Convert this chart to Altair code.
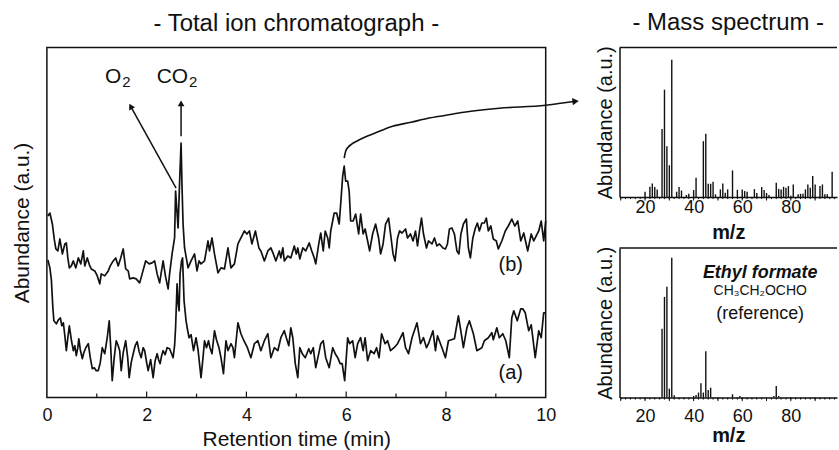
import altair as alt
import pandas as pd

FONT = "Liberation Sans"
INK = "#111111"

# ---------------- Total ion chromatogram ----------------
# trace (a)
t_a = [0.02, 0.06, 0.09, 0.12, 0.14, 0.19, 0.23, 0.27, 0.30, 0.33, 0.36, 0.39, 0.42, 0.45, 0.49, 0.53, 0.56,
       0.59, 0.62, 0.64, 0.67, 0.71, 0.74, 0.78, 0.83, 0.87, 0.91, 0.95, 0.99, 1.03, 1.07, 1.11, 1.16, 1.21,
       1.25, 1.28, 1.31, 1.35, 1.39, 1.43, 1.46, 1.49, 1.53, 1.58, 1.62, 1.65, 1.69, 1.73, 1.77, 1.81, 1.85,
       1.89, 1.93, 1.96, 2.00, 2.03, 2.08, 2.13, 2.17, 2.21, 2.24, 2.27, 2.30, 2.33, 2.37, 2.41, 2.46, 2.50,
       2.53, 2.56, 2.58, 2.61, 2.63, 2.65, 2.67, 2.70, 2.72, 2.75, 2.79, 2.82, 2.85, 2.89, 2.94, 2.99, 3.03,
       3.06, 3.09, 3.13, 3.16, 3.20, 3.24, 3.27, 3.31, 3.36, 3.40, 3.45, 3.49, 3.54, 3.59, 3.63, 3.69, 3.73,
       3.76, 3.80, 3.83, 3.89, 3.95, 4.02, 4.09, 4.16, 4.23, 4.29, 4.36, 4.43, 4.49, 4.56, 4.63, 4.69, 4.73,
       4.76, 4.80, 4.85, 4.89, 4.93, 4.98, 5.03, 5.07, 5.12, 5.18, 5.25, 5.29, 5.34, 5.39, 5.45, 5.49, 5.54,
       5.59, 5.66, 5.73, 5.78, 5.83, 5.88, 5.92, 5.97, 6.03, 6.07, 6.13, 6.18, 6.23, 6.29, 6.34, 6.38, 6.43,
       6.49, 6.56, 6.61, 6.66, 6.71, 6.78, 6.83, 6.89, 6.96, 7.03, 7.09, 7.14, 7.19, 7.25, 7.32, 7.42, 7.49,
       7.55, 7.61, 7.65, 7.74, 7.79, 7.83, 7.92, 7.99, 8.05, 8.17, 8.25, 8.32, 8.35, 8.42, 8.47, 8.55, 8.62,
       8.72, 8.77, 8.85, 8.92, 8.95, 9.02, 9.07, 9.14, 9.20, 9.27, 9.32, 9.36, 9.43, 9.50, 9.54, 9.59, 9.66,
       9.71, 9.79, 9.86, 9.91, 9.96, 10.0]
v_a = [138, 130, 118, 90, 77, 74, 78, 80, 72, 75, 62, 47, 60, 72, 58, 47, 52,
       42, 50, 59, 48, 39, 45, 50, 54, 40, 29, 30, 27, 27, 35, 50, 44, 60,
       77, 50, 17, 40, 57, 52, 47, 27, 45, 57, 40, 20, 35, 44, 52, 56, 46,
       40, 50, 47, 35, 27, 38, 20, 37, 44, 38, 34, 42, 47, 43, 50, 49, 44,
       40, 52, 70, 114, 95, 87, 124, 137, 140, 97, 77, 68, 60, 63, 47, 60, 48,
       34, 20, 40, 57, 50, 57, 50, 44, 67, 58, 50, 40, 24, 57, 47, 54, 50,
       40, 60, 75, 64, 57, 50, 40, 54, 57, 47, 57, 64, 40, 50, 47, 60, 64,
       67, 60, 52, 70, 60, 34, 20, 50, 44, 40, 49, 44, 50, 30, 44, 54, 57,
       40, 30, 50, 44, 40, 34, 34, 17, 60, 54, 57, 40, 54, 60, 47, 60, 37,
       47, 44, 50, 40, 64, 54, 57, 47, 50, 54, 60, 65, 50, 44, 60, 75, 54,
       60, 50, 54, 67, 47, 62, 50, 40, 57, 59, 82, 60, 50, 70, 77, 64, 47,
       50, 57, 60, 65, 58, 70, 60, 64, 57, 40, 80, 87, 77, 89, 89, 85, 67,
       73, 40, 67, 60, 85, 85]

# trace (b)
t_b = [0.02, 0.06, 0.11, 0.15, 0.18, 0.22, 0.26, 0.29, 0.31, 0.36, 0.39, 0.42, 0.45, 0.49, 0.53, 0.58, 0.63,
       0.68, 0.73, 0.76, 0.81, 0.86, 0.89, 0.96, 1.01, 1.06, 1.09, 1.16, 1.23, 1.27, 1.33, 1.38, 1.43, 1.48,
       1.53, 1.58, 1.63, 1.66, 1.73, 1.79, 1.86, 1.91, 1.98, 2.05, 2.11, 2.16, 2.21, 2.26, 2.33, 2.38, 2.43,
       2.46, 2.51, 2.56, 2.58, 2.61, 2.63, 2.66, 2.69, 2.71, 2.73, 2.76, 2.83, 2.89, 2.96, 3.01, 3.05, 3.09,
       3.16, 3.23, 3.26, 3.31, 3.36, 3.43, 3.49, 3.56, 3.63, 3.69, 3.76, 3.83, 3.89, 3.96, 4.01, 4.06, 4.11,
       4.18, 4.25, 4.29, 4.36, 4.43, 4.49, 4.54, 4.59, 4.66, 4.69, 4.73, 4.76, 4.83, 4.89, 4.96, 5.00, 5.03,
       5.07, 5.13, 5.19, 5.26, 5.31, 5.36, 5.39, 5.45, 5.49, 5.54, 5.58, 5.63, 5.66, 5.69, 5.76, 5.81, 5.86,
       5.89, 5.93, 5.96, 5.99, 6.03, 6.06, 6.09, 6.14, 6.19, 6.25, 6.29, 6.34, 6.38, 6.43, 6.47, 6.53, 6.59,
       6.65, 6.69, 6.74, 6.79, 6.85, 6.89, 6.94, 6.98, 7.03, 7.07, 7.12, 7.19, 7.23, 7.29, 7.34, 7.39, 7.43,
       7.47, 7.51, 7.55, 7.61, 7.65, 7.72, 7.77, 7.82, 7.87, 7.94, 7.99, 8.03, 8.07, 8.12, 8.17, 8.22, 8.26,
       8.30, 8.35, 8.41, 8.45, 8.49, 8.54, 8.59, 8.63, 8.67, 8.72, 8.77, 8.81, 8.85, 8.90, 8.95, 9.01, 9.05,
       9.12, 9.19, 9.25, 9.32, 9.38, 9.44, 9.50, 9.56, 9.64, 9.71, 9.76, 9.86, 9.91, 9.96, 10.0]
v_b = [182, 185, 174, 158, 149, 147, 159, 150, 144, 154, 155, 140, 130, 132, 137, 130, 140,
       134, 147, 132, 140, 132, 129, 127, 122, 114, 124, 122, 127, 132, 137, 140, 132, 140,
       149, 129, 127, 119, 120, 119, 115, 124, 137, 134, 135, 137, 124, 115, 137, 121, 109,
       124, 144, 160, 207, 185, 170, 215, 255, 210, 174, 150, 130, 137, 144, 127, 137, 134,
       137, 157, 147, 160, 144, 125, 130, 129, 150, 130, 134, 154, 160, 167, 164, 167, 154,
       167, 150, 147, 137, 147, 150, 144, 137, 147, 140, 150, 137, 142, 140, 152, 144, 150,
       139, 150, 147, 155, 147, 140, 134, 154, 165, 147, 167, 160, 150, 167, 185, 185, 174,
       194, 222, 232, 217, 217, 207, 177, 177, 184, 164, 184, 164, 169, 157, 147, 164, 174,
       160, 144, 154, 174, 180, 164, 144, 137, 160, 167, 165, 169, 160, 164, 157, 167, 152,
       167, 180, 164, 150, 157, 154, 160, 152, 154, 150, 149, 154, 169, 170, 164, 147, 144,
       164, 174, 179, 150, 140, 160, 170, 175, 167, 175, 175, 180, 167, 172, 159, 157, 149,
       157, 167, 172, 179, 172, 177, 157, 165, 147, 164, 157, 167, 177, 157, 177]

tick_major = [2, 4, 6, 8]
tick_minor = [1, 3, 5, 7, 9]

# annotation arrows (retention time, abundance)
o2_arrow_t = [2.59, 1.68]
o2_arrow_v = [210, 292]
co2_arrow_t = [2.69, 2.69]
co2_arrow_v = [262, 295]
curve_t = [5.96, 5.99, 6.04, 6.11, 6.21, 6.37, 6.57, 6.93, 7.30, 7.64, 8.00, 8.36, 9.07, 10.0, 10.3, 10.6]
curve_v = [240, 247, 251, 254, 257, 261, 265, 272, 276, 280, 283, 286, 290, 293, 295, 297]

# gas labels: main part (right-aligned) and subscript (left-aligned)
gas_text = ["O", "CO"]
gas_t = [1.49, 2.83]
gas_v = [315, 315]
sub_text = ["2", "2"]
sub_t = [1.51, 2.85]
sub_v = [311, 311]

trace_text = ["(b)", "(a)"]
trace_t = [9.3, 9.3]
trace_v = [133, 25]

# ---------------- Mass spectra ----------------
ms_mz = [20, 22, 23, 24, 25, 27, 28, 29, 30, 31, 33, 34, 35, 37, 38, 40, 41, 44, 45, 46, 47, 48, 49,
         51, 52, 53, 54, 56, 58, 60, 61, 62, 65, 66, 68, 69, 70, 71, 74, 75, 76, 77, 78, 79, 80, 81,
         83, 84, 85, 86, 87, 88, 89, 90, 92, 93, 94, 95, 97]
ms_ab = [3.9, 7.5, 9.9, 7.3, 5.6, 49.6, 78.2, 37, 23.2, 100, 3.9, 7.3, 4.8, 1.5, 2.4, 5.1, 14, 40.7, 46.2,
         9.7, 9.7, 11.1, 2, 5.6, 9.9, 3.1, 5.6, 19.4, 5.3, 5.6, 4.4, 3.9, 5.8, 3, 7.3, 5.1, 3, 1.5, 10.4,
         6, 5.6, 7.5, 6.8, 8, 1, 9.2, 2, 2.4, 2.4, 5.6, 9.2, 6.8, 15.3, 9.2, 8, 9.2, 2, 2, 18.4]

ref_mz = [27, 28, 29, 30, 31, 32, 40, 41, 42, 43, 44, 45, 46, 47, 56, 59, 73, 74, 75]
ref_ab = [49.3, 72, 79.3, 6.4, 100, 1.7, 1.2, 1.9, 3.6, 10.2, 3.6, 33.1, 5.5, 7.1, 2.4, 1.2, 1.2, 8.3, 1.2]

mz_domain = [9.5, 99]
mz_labels = [20, 40, 60, 80]
mz_minor = list(range(10, 99, 2))
mz_major = list(range(10, 99, 10))

ref_text = ["Ethyl formate", "CH\u2083CH\u2082OCHO", "(reference)"]
ref_text_mz = [67.4, 67.4, 67.4]
ref_text_ab = [89, 76, 60]

# ---------------- build main chart ----------------
tic = pd.DataFrame({"t": t_a + t_b, "v": v_a + v_b,
                    "series": ["a"] * len(t_a) + ["b"] * len(t_b)})

x_main = alt.X("t:Q", scale=alt.Scale(domain=[0, 10], nice=False, zero=False),
               axis=alt.Axis(values=[0, 2, 4, 6, 8, 10], format="d", ticks=False, tickSize=0,
                             domain=False, grid=False, labelFlush=False, labelFontSize=18,
                             labelPadding=9, labelColor=INK, title="Retention time (min)",
                             titleFontSize=21, titleFontWeight="normal", titleY=42,
                             titleBaseline="middle", titleColor=INK))
y_main = alt.Y("v:Q", scale=alt.Scale(domain=[0, 351], nice=False, zero=False),
               axis=alt.Axis(labels=False, ticks=False, domain=False, grid=False,
                             title="Abundance (a.u.)", titleFontSize=21, titleFontWeight="normal",
                             titlePadding=14, titleColor=INK))

traces = alt.Chart(tic).mark_line(color=INK, strokeWidth=1.7, strokeJoin="round").encode(
    x=x_main, y=y_main, detail="series:N")

ticks_df = pd.DataFrame({"t": tick_major + tick_minor, "v": [0] * 9,
                         "v2": [6] * len(tick_major) + [4] * len(tick_minor)})
ticks = alt.Chart(ticks_df).mark_rule(color=INK, strokeWidth=1.2).encode(
    x=x_main, y=y_main, y2="v2:Q")

o2_df = pd.DataFrame({"t": o2_arrow_t, "v": o2_arrow_v})
co2_df = pd.DataFrame({"t": co2_arrow_t, "v": co2_arrow_v})
curve_df = pd.DataFrame({"t": curve_t, "v": curve_v})
o2_line = alt.Chart(o2_df).mark_line(color=INK, strokeWidth=1.5).encode(x=x_main, y=y_main)
co2_line = alt.Chart(co2_df).mark_line(color=INK, strokeWidth=1.5).encode(x=x_main, y=y_main)
curve_line = alt.Chart(curve_df).mark_line(color=INK, strokeWidth=1.6, interpolate="monotone").encode(
    x=x_main, y=y_main)

o2_head = alt.Chart(o2_df.tail(1)).mark_point(shape="triangle-up", angle=331, filled=True, size=45,
                                              color=INK, opacity=1).encode(x=x_main, y=y_main)
co2_head = alt.Chart(co2_df.tail(1)).mark_point(shape="triangle-up", filled=True, size=45,
                                                color=INK, opacity=1).encode(x=x_main, y=y_main)
curve_head = alt.Chart(curve_df.tail(1)).mark_point(shape="triangle-right", angle=354, filled=True,
                                                    size=55, color=INK, opacity=1).encode(x=x_main, y=y_main)

gas_df = pd.DataFrame({"t": gas_t, "v": gas_v, "txt": gas_text})
gas = alt.Chart(gas_df).mark_text(font=FONT, fontSize=21, color=INK, baseline="alphabetic",
                                  align="right").encode(x=x_main, y=y_main, text="txt:N")
sub_df = pd.DataFrame({"t": sub_t, "v": sub_v, "txt": sub_text})
sub = alt.Chart(sub_df).mark_text(font=FONT, fontSize=15, color=INK, baseline="alphabetic",
                                  align="left").encode(x=x_main, y=y_main, text="txt:N")
tr_df = pd.DataFrame({"t": trace_t, "v": trace_v, "txt": trace_text})
tr_lab = alt.Chart(tr_df).mark_text(font=FONT, fontSize=20, color=INK, baseline="middle",
                                    align="center").encode(x=x_main, y=y_main, text="txt:N")

main = alt.layer(traces, ticks, o2_line, co2_line, curve_line, o2_head, co2_head, curve_head,
                 gas, sub, tr_lab).properties(
    width=500, height=351,
    title=alt.TitleParams("- Total ion chromatograph -", fontSize=24, fontWeight="normal",
                          font=FONT, color=INK, offset=11, anchor="middle"))


# ---------------- spectra ----------------
def spectrum(mz, ab, ymax, label_pad, title_y, title_text=None, extra=None):
    df = pd.DataFrame({"mz": mz, "ab": ab})
    x = alt.X("mz:Q", scale=alt.Scale(domain=mz_domain, nice=False, zero=False),
              axis=alt.Axis(values=mz_labels, ticks=False, tickSize=0, labelFlush=False,
                            domain=True, domainColor=INK, domainWidth=1.5, grid=False,
                            labelFontSize=18, labelPadding=label_pad, labelColor=INK,
                            title="m/z", titleFontSize=20, titleFontWeight="bold",
                            titleY=title_y, titleBaseline="middle", titleColor=INK))
    y = alt.Y("ab:Q", scale=alt.Scale(domain=[0, ymax], nice=False, zero=False),
              axis=alt.Axis(labels=False, ticks=False, domain=True, domainColor=INK,
                            domainWidth=1.5, grid=False, title="Abundance (a.u.)",
                            titleFontSize=20, titleFontWeight="normal", titlePadding=4,
                            titleColor=INK))
    bars = alt.Chart(df).mark_rule(color=INK, strokeWidth=1.4).encode(x=x, y=y, y2=alt.datum(0))
    top = alt.Chart(df.head(1)).mark_rule(color=INK, strokeWidth=1.5).encode(
        x=alt.datum(mz_domain[0]), x2=alt.datum(mz_domain[1]), y=alt.value(0))
    minor = alt.Chart(pd.DataFrame({"mz": mz_minor})).mark_rule(color=INK, strokeWidth=1).encode(
        x=x, y=alt.value(150), y2=alt.value(152))
    major = alt.Chart(pd.DataFrame({"mz": mz_major})).mark_rule(color=INK, strokeWidth=1).encode(
        x=x, y=alt.value(150), y2=alt.value(153.5))
    layers = [bars, top, minor, major]
    if extra is not None:
        layers += extra(x, y)
    props = dict(width=218, height=150, view=alt.ViewBackground(stroke="transparent"))
    if title_text:
        props["title"] = alt.TitleParams(title_text, fontSize=24, fontWeight="normal", font=FONT,
                                         color=INK, offset=11, anchor="middle")
    return alt.layer(*layers).properties(**props)


def ref_labels(x, y):
    d = pd.DataFrame({"mz": ref_text_mz, "ab": ref_text_ab, "txt": ref_text})
    t1 = alt.Chart(d.head(1)).mark_text(font=FONT, fontSize=18, fontWeight="bold", fontStyle="italic",
                                        color=INK).encode(x=x, y=y, text="txt:N")
    t2 = alt.Chart(d.iloc[1:2]).mark_text(font=FONT, fontSize=14, color=INK).encode(x=x, y=y, text="txt:N")
    t3 = alt.Chart(d.iloc[2:3]).mark_text(font=FONT, fontSize=18, color=INK).encode(x=x, y=y, text="txt:N")
    return [t1, t2, t3]


spec_top = spectrum(ms_mz, ms_ab, 109, 1, 35.5, "- Mass spectrum -")
spec_bot = spectrum(ref_mz, ref_ab, 107, 10, 38.5, None, ref_labels)

right = alt.vconcat(spec_top, spec_bot, spacing=51, bounds="flush")
chart = alt.hconcat(main, right, spacing=74, bounds="flush").properties(
    padding={"left": 11, "top": 9, "right": 0, "bottom": 2}
).configure(font=FONT).configure_view(stroke=INK, strokeWidth=1.5).configure_axis(
    labelFont=FONT, titleFont=FONT)

chart.save("out.html", embed_options={"renderer": "svg", "actions": False})
